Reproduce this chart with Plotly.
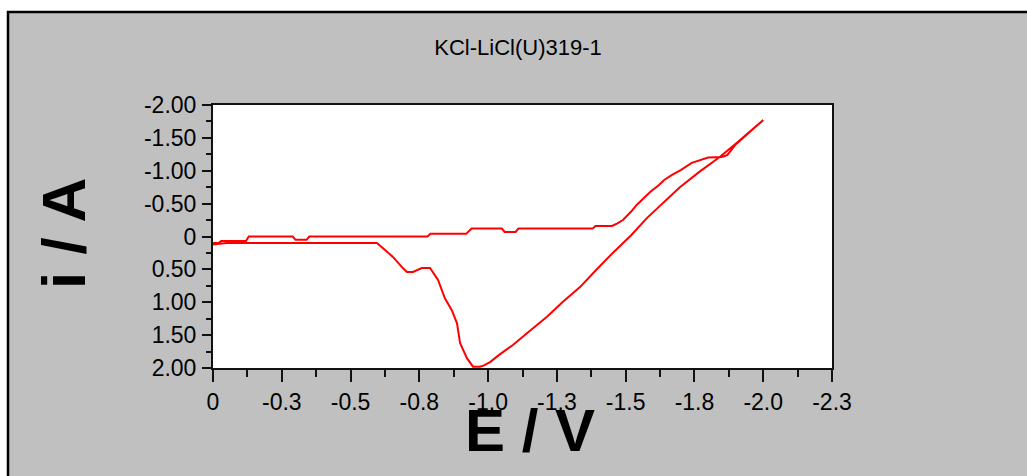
import plotly.graph_objects as go

# ---- data (E in V, i in A) ----
forward_E = [0.0, -0.02, -0.03, -0.06, -0.12, -0.13, -0.29, -0.30, -0.34, -0.35,
             -0.78, -0.79, -0.92, -0.94, -1.05, -1.06, -1.10, -1.11, -1.38, -1.39,
             -1.45, -1.47, -1.49, -1.52, -1.54, -1.57, -1.59, -1.62, -1.64, -1.67,
             -1.70, -1.74, -1.78, -1.80, -1.85, -1.87, -1.90, -1.95, -2.00]
forward_i = [0.10, 0.10, 0.07, 0.07, 0.07, 0.0, 0.0, 0.05, 0.05, 0.0,
             0.0, -0.04, -0.04, -0.12, -0.12, -0.07, -0.07, -0.12, -0.12, -0.16,
             -0.16, -0.20, -0.25, -0.38, -0.48, -0.60, -0.68, -0.78, -0.86, -0.94,
             -1.01, -1.12, -1.18, -1.20, -1.21, -1.24, -1.40, -1.58, -1.77]

reverse_E = [-2.00, -1.95, -1.90, -1.842, -1.77, -1.697, -1.64, -1.577, -1.52, -1.453,
             -1.39, -1.334, -1.27, -1.214, -1.15, -1.09, -1.04, -1.007, -0.985, -0.970,
             -0.945, -0.923, -0.898, -0.887, -0.868, -0.843, -0.818, -0.799, -0.789, -0.759,
             -0.727, -0.705, -0.690, -0.654, -0.618, -0.596, -0.40, -0.20, -0.05, 0.0]
reverse_i = [-1.77, -1.59, -1.41, -1.21, -0.99, -0.75, -0.53, -0.28, -0.02, 0.25,
             0.52, 0.77, 1.00, 1.22, 1.44, 1.65, 1.80, 1.91, 1.96, 1.98,
             1.98, 1.85, 1.62, 1.32, 1.12, 0.94, 0.66, 0.54, 0.48, 0.48,
             0.54, 0.54, 0.48, 0.31, 0.17, 0.10, 0.10, 0.10, 0.10, 0.12]

x_tickvals = [0, -0.25, -0.5, -0.75, -1.0, -1.25, -1.5, -1.75, -2.0, -2.25]
x_ticktext = ["0", "-0.3", "-0.5", "-0.8", "-1.0", "-1.3", "-1.5", "-1.8", "-2.0", "-2.3"]
y_tickvals = [-2.0, -1.5, -1.0, -0.5, 0, 0.5, 1.0, 1.5, 2.0]
y_ticktext = ["-2.00", "-1.50", "-1.00", "-0.50", "0", "0.50", "1.00", "1.50", "2.00"]

title_text = "KCl-LiCl(U)319-1"
x_title = "E / V"
y_title = "i / A"

# ---- layout geometry (pixels) ----
W, H = 1027, 476
L, R, T, B = 213, 832, 105, 368
pw, ph = R - L, B - T


def px(x):
    return (x - L) / pw


def py(y):
    return (B - y) / ph


fig = go.Figure()
fig.add_trace(go.Scatter(x=forward_E + reverse_E, y=forward_i + reverse_i,
                         mode="lines", line=dict(color="#ff0000", width=2),
                         showlegend=False, hoverinfo="skip"))

tick_font = dict(family="Liberation Sans, Arial, sans-serif", size=23, color="black")

fig.update_layout(
    width=W, height=H,
    margin=dict(l=L, r=W - R, t=T, b=H - B, pad=0),
    paper_bgcolor="#c0c0c0",
    plot_bgcolor="white",
    title=dict(text=title_text, x=518 / W, xref="container", xanchor="center",
               y=1 - 47 / H, yref="container", yanchor="middle",
               font=dict(family="Liberation Sans, Arial, sans-serif", size=22, color="black")),
    xaxis=dict(range=[0, -2.25], tickmode="array", tickvals=x_tickvals, ticktext=x_ticktext,
               showgrid=False, zeroline=False, showline=True, linecolor="#111", linewidth=2,
               mirror=True, ticks="outside", ticklen=12, tickwidth=2, tickcolor="#111",
               tickfont=tick_font, ticklabelstandoff=0,
               minor=dict(ticks="outside", ticklen=7, tickwidth=2, tickcolor="#111",
                          tick0=0, dtick=0.125, showgrid=False)),
    yaxis=dict(range=[2.0, -2.0], tickmode="array", tickvals=y_tickvals, ticktext=y_ticktext,
               showgrid=False, zeroline=False, showline=True, linecolor="#111", linewidth=2,
               mirror=True, ticks="outside", ticklen=9, tickwidth=2, tickcolor="#111",
               tickfont=tick_font, ticklabelstandoff=1,
               minor=dict(ticks="outside", ticklen=5, tickwidth=2, tickcolor="#111",
                          tick0=0, dtick=0.25, showgrid=False)),
    annotations=[
        dict(text="<b>" + x_title + "</b>", xref="paper", yref="paper",
             x=px(530), y=py(430), xanchor="center", yanchor="middle", showarrow=False,
             font=dict(family="Liberation Sans, Arial", size=60, color="black")),
        dict(text="<b>" + y_title + "</b>", xref="paper", yref="paper",
             x=px(63), y=py(234), xanchor="center", yanchor="middle", showarrow=False,
             textangle=-90,
             font=dict(family="Liberation Sans, Arial", size=62, color="black")),
    ],
    shapes=[
        # white margin outside the grey panel (top and left)
        dict(type="rect", xref="paper", yref="paper", x0=px(-5), x1=px(1040), y0=py(11), y1=py(-5),
             fillcolor="white", line=dict(width=0), layer="above"),
        dict(type="rect", xref="paper", yref="paper", x0=px(-5), x1=px(7), y0=py(490), y1=py(-5),
             fillcolor="white", line=dict(width=0), layer="above"),
        # black frame edges of the grey panel
        dict(type="line", xref="paper", yref="paper", x0=px(7), x1=px(1040), y0=py(12), y1=py(12),
             line=dict(color="black", width=2.5), layer="above"),
        dict(type="line", xref="paper", yref="paper", x0=px(8), x1=px(8), y0=py(11), y1=py(490),
             line=dict(color="black", width=2.5), layer="above"),
    ],
)

fig.write_html("out.html")
